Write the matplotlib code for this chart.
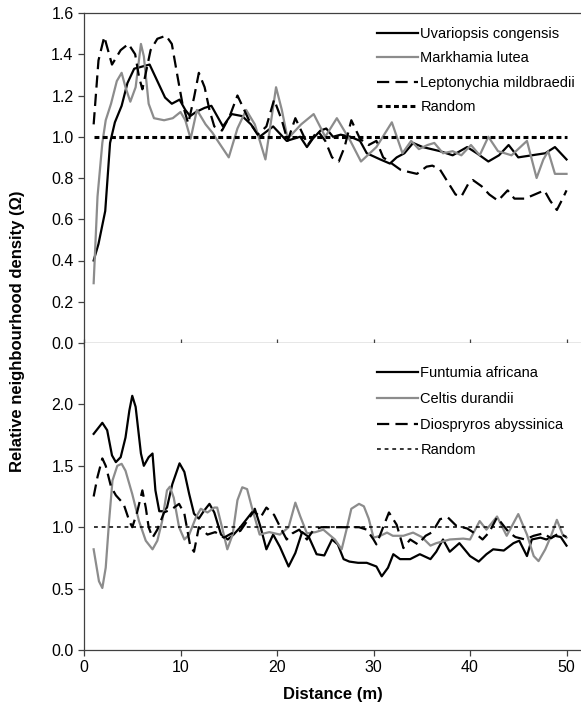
import numpy as np
import matplotlib
matplotlib.use('Agg')
import matplotlib.pyplot as plt

plt.rcParams['font.family'] = ['Liberation Sans', 'DejaVu Sans']

# ---- top panel ----
uva_x = [1.0, 1.5, 2.2, 2.7, 3.2, 3.9, 4.5, 5.2, 6.0, 6.8, 7.4, 8.4, 9.1, 9.9, 10.5, 11.0, 11.6,
         12.5, 13.2, 14.4, 15.3, 16.4, 17.3, 18.2, 19.6, 21.0, 22.4, 23.1, 23.7, 24.5, 25.1, 25.8,
         26.6, 27.6, 28.6, 29.3, 30.7, 31.7, 32.4, 33.2, 34.1, 35.1, 36.0, 36.9, 38.2, 39.7, 40.7,
         41.9, 43.0, 44.0, 45.0, 46.4, 47.8, 48.8, 50.0]
uva_y = [0.40, 0.48, 0.64, 0.97, 1.07, 1.15, 1.26, 1.33, 1.34, 1.35, 1.29, 1.19, 1.16, 1.18, 1.13,
         1.10, 1.12, 1.14, 1.15, 1.05, 1.11, 1.10, 1.06, 1.00, 1.05, 0.98, 1.00, 0.95, 0.99, 1.03,
         1.04, 1.00, 1.01, 1.00, 0.98, 0.92, 0.89, 0.87, 0.90, 0.92, 0.97, 0.95, 0.94, 0.93, 0.91,
         0.95, 0.92, 0.88, 0.91, 0.96, 0.90, 0.91, 0.92, 0.95, 0.89]

mar_x = [1.0, 1.4, 1.9, 2.25, 2.8, 3.4, 3.9, 4.3, 4.8, 5.35, 5.9, 6.2, 6.7, 7.25, 8.3, 9.2, 10.0,
         10.5, 11.05, 11.7, 12.6, 13.3, 14.0, 15.0, 15.9, 16.8, 17.7, 18.8, 19.9, 20.5, 21.1, 22.5,
         23.8, 25.0, 26.2, 27.6, 28.7, 30.3, 31.9, 33.0, 33.9, 34.7, 35.6, 36.3, 37.2, 38.2, 39.1,
         40.1, 41.0, 41.9, 42.9, 44.3, 45.9, 46.9, 47.6, 48.1, 48.8, 49.3, 50.0]
mar_y = [0.29, 0.71, 0.97, 1.08, 1.16, 1.27, 1.31, 1.24, 1.17, 1.24, 1.45, 1.39, 1.16, 1.09, 1.08,
         1.09, 1.12, 1.08, 0.99, 1.13, 1.06, 1.02, 0.97, 0.90, 1.04, 1.13, 1.06, 0.89, 1.24, 1.13,
         0.99, 1.06, 1.11, 1.00, 1.09, 0.98, 0.88, 0.95, 1.07, 0.92, 0.98, 0.94, 0.96, 0.97, 0.92,
         0.93, 0.91, 0.96, 0.91, 1.00, 0.93, 0.91, 0.98, 0.80, 0.89, 0.93, 0.82, 0.82, 0.82]

lep_x = [1.0, 1.5, 2.1, 2.9, 3.8, 4.6, 5.3, 5.7, 6.05, 6.9, 7.6, 8.5, 9.1, 9.7, 10.2, 10.8, 11.4,
         11.9, 12.5, 13.0, 13.5, 14.3, 15.1, 15.9, 16.6, 17.3, 18.0, 18.9, 19.7, 20.5, 21.1, 21.9,
         22.6, 23.2, 24.2, 25.0, 25.7, 26.4, 27.0, 27.7, 28.6, 29.5, 30.3, 31.0, 31.9, 32.8, 33.6,
         34.5, 35.5, 36.1, 36.9, 37.7, 38.5, 39.1, 39.8, 40.3, 41.2, 42.0, 42.9, 43.9, 44.6, 45.7,
         46.7, 47.7, 48.3, 49.0, 49.6, 50.0]
lep_y = [1.06, 1.37, 1.485, 1.35, 1.42, 1.45, 1.40, 1.29, 1.23, 1.42, 1.475, 1.49, 1.45, 1.29,
         1.16, 1.065, 1.19, 1.31, 1.24, 1.13, 1.05, 1.03, 1.10, 1.20, 1.13, 1.06, 1.01, 1.05, 1.18,
         1.08, 0.98, 1.09, 1.02, 0.96, 1.03, 0.98, 0.90, 0.88, 0.95, 1.08, 0.99, 0.96, 0.98, 0.90,
         0.87, 0.84, 0.83, 0.82, 0.855, 0.86, 0.84, 0.78, 0.72, 0.71, 0.77, 0.79, 0.76, 0.72, 0.69,
         0.74, 0.70, 0.70, 0.72, 0.74, 0.69, 0.645, 0.70, 0.74]

# ---- bottom panel ----
fun_x = [1.0, 1.9, 2.4, 2.9, 3.3, 3.8, 4.3, 4.7, 5.0, 5.35, 5.9, 6.2, 6.7, 7.1, 7.4, 7.8, 8.2, 8.6,
         9.15, 9.9, 10.4, 10.9, 11.4, 11.9, 12.4, 13.0, 13.5, 14.2, 14.9, 15.5, 16.2, 16.9, 17.7,
         18.3, 18.9, 19.6, 20.3, 21.2, 21.9, 22.6, 23.3, 24.1, 24.9, 25.7, 26.3, 26.9, 27.5, 28.4,
         29.3, 30.3, 30.85, 31.5, 32.05, 32.75, 33.8, 34.8, 35.9, 36.5, 37.2, 37.9, 38.9, 40.0,
         40.9, 41.7, 42.4, 43.5, 44.5, 45.1, 45.9, 46.4, 47.3, 47.9, 48.8, 49.4, 50.0]
fun_y = [1.76, 1.85, 1.79, 1.585, 1.53, 1.57, 1.73, 1.95, 2.07, 1.98, 1.60, 1.50, 1.57, 1.60, 1.30,
         1.13, 1.13, 1.16, 1.35, 1.52, 1.45, 1.27, 1.11, 1.07, 1.13, 1.19, 1.12, 0.94, 0.90, 0.94,
         1.00, 1.07, 1.15, 1.00, 0.82, 0.94, 0.84, 0.68, 0.79, 0.96, 0.92, 0.78, 0.77, 0.90, 0.86,
         0.74, 0.72, 0.71, 0.71, 0.68, 0.60, 0.67, 0.78, 0.74, 0.74, 0.78, 0.74, 0.80, 0.90, 0.80,
         0.87, 0.765, 0.72, 0.78, 0.82, 0.81, 0.87, 0.89, 0.765, 0.90, 0.915, 0.90, 0.93, 0.92, 0.85]

cel_x = [1.0, 1.55, 1.9, 2.25, 2.6, 2.95, 3.45, 3.9, 4.3, 5.0, 5.7, 6.4, 7.1, 7.6, 8.1, 8.6, 8.9,
         9.3, 9.85, 10.4, 10.9, 11.6, 12.1, 12.8, 13.5, 13.8, 14.3, 14.85, 15.4, 15.9, 16.4, 16.9,
         17.4, 18.2, 19.2, 20.3, 21.2, 21.9, 22.4, 23.1, 24.0, 24.8, 26.0, 26.7, 27.2, 27.7, 28.5,
         29.0, 29.5, 30.0, 30.7, 31.4, 32.0, 33.1, 34.1, 35.0, 35.9, 36.5, 37.9, 39.3, 40.0, 41.0,
         41.7, 42.8, 43.8, 45.0, 45.9, 46.6, 47.1, 47.8, 48.4, 49.0, 49.6, 50.0]
cel_y = [0.82, 0.56, 0.505, 0.67, 1.05, 1.38, 1.50, 1.516, 1.46, 1.27, 1.05, 0.89, 0.82, 0.89, 1.05,
         1.30, 1.33, 1.24, 1.00, 0.90, 0.94, 1.08, 1.15, 1.12, 1.16, 1.16, 1.00, 0.82, 0.94, 1.22,
         1.325, 1.31, 1.16, 0.94, 0.96, 0.94, 1.00, 1.20, 1.09, 0.95, 0.96, 0.98, 0.90, 0.82, 0.98,
         1.15, 1.19, 1.17, 1.07, 0.915, 0.93, 0.956, 0.93, 0.93, 0.956, 0.92, 0.85, 0.87, 0.90,
         0.907, 0.90, 1.05, 0.98, 1.087, 0.93, 1.107, 0.94, 0.765, 0.724, 0.82, 0.93, 1.06, 0.94, 0.915]

dio_x = [1.0, 1.4, 1.9, 2.25, 2.8, 3.3, 4.1, 4.7, 5.0, 5.5, 6.05, 6.4, 6.7, 7.1, 7.6, 8.3, 9.15,
         9.85, 10.4, 10.7, 11.0, 11.4, 11.9, 12.8, 13.6, 14.5, 15.3, 16.2, 16.9, 17.6, 18.3, 18.9,
         19.7, 20.4, 21.0, 21.6, 22.3, 23.1, 23.8, 24.6, 25.4, 26.0, 26.7, 27.5, 28.5, 29.3, 30.0,
         30.3, 30.9, 31.6, 32.4, 33.1, 33.8, 34.6, 35.4, 36.1, 36.9, 37.7, 38.6, 39.7, 40.7, 41.3,
         42.0, 42.8, 43.5, 44.0, 44.7, 45.7, 46.6, 47.6, 48.4, 49.2, 50.0]
dio_y = [1.25, 1.41, 1.56, 1.50, 1.33, 1.26, 1.19, 1.05, 1.00, 1.12, 1.30, 1.16, 1.00, 0.915, 0.98,
         1.12, 1.15, 1.19, 1.11, 0.98, 0.85, 0.80, 1.00, 0.94, 0.96, 0.915, 0.95, 0.97, 1.05, 1.13,
         1.08, 1.16, 1.10, 0.99, 0.90, 0.95, 0.98, 0.90, 0.98, 1.00, 1.00, 1.00, 1.00, 1.00, 1.00,
         0.98, 0.90, 0.86, 0.98, 1.12, 1.02, 0.83, 0.90, 0.86, 0.93, 0.96, 1.066, 1.08, 1.01, 0.99,
         0.94, 0.90, 0.96, 1.08, 1.01, 0.96, 0.92, 0.90, 0.93, 0.95, 0.91, 0.95, 0.92]

rand_x = [1, 50]
rand_y = [1.0, 1.0]

gray = '#8c8c8c'
spine_c = '#404040'

fig = plt.figure(figsize=(5.81, 7.19), dpi=100)
ax1 = fig.add_axes([84/581, 376/719, 497/581, 330/719])
ax2 = fig.add_axes([84/581, 69/719, 497/581, 307/719])

ax1.plot(uva_x, uva_y, color='black', lw=1.6, label='Uvariopsis congensis')
ax1.plot(mar_x, mar_y, color=gray, lw=1.6, label='Markhamia lutea')
ax1.plot(lep_x, lep_y, color='black', lw=1.6, dashes=(5.5, 2.8), label='Leptonychia mildbraedii')
ax1.plot(rand_x, rand_y, color='black', lw=2.2, dashes=(1.6, 1.1), label='Random')

ax2.plot(fun_x, fun_y, color='black', lw=1.6, label='Funtumia africana')
ax2.plot(cel_x, cel_y, color=gray, lw=1.6, label='Celtis durandii')
ax2.plot(dio_x, dio_y, color='black', lw=1.6, dashes=(5.5, 2.8), label='Diospryros abyssinica')
ax2.plot(rand_x, rand_y, color='black', lw=1.1, dashes=(2.5, 2.5), label='Random')

ax1.set_ylim(0, 1.6)
ax1.set_yticks(np.arange(0, 1.61, 0.2))
ax1.set_yticklabels(['%.1f' % v for v in np.arange(0, 1.61, 0.2)])
ax2.set_ylim(0, 2.5)
ax2.set_yticks([0, 0.5, 1.0, 1.5, 2.0])
ax2.set_yticklabels(['0.0', '0.5', '1.0', '1.5', '2.0'])

for ax, sp in ((ax1, 0.7), (ax2, 0.8)):
    ax.set_xlim(0, 51.5)
    ax.set_xticks([0, 10, 20, 30, 40, 50])
    ax.spines['right'].set_visible(False)
    for s in ('left', 'bottom', 'top'):
        ax.spines[s].set_color(spine_c)
        ax.spines[s].set_linewidth(0.9)
    ax.tick_params(axis='both', labelsize=11.5, color=spine_c, width=0.9, length=4, direction='out')
    ax.legend(loc='upper left', frameon=False, fontsize=10.5, handlelength=2.8,
              handletextpad=0.15, borderpad=0, borderaxespad=0, labelspacing=sp)

ax1.get_legend().set_bbox_to_anchor((0.59, 0.957), transform=ax1.transAxes)
ax2.get_legend().set_bbox_to_anchor((0.59, 0.924), transform=ax2.transAxes)

ax1.tick_params(axis='x', labelbottom=False, direction='inout', length=6)
ax2.spines['top'].set_visible(False)

ax2.set_xlabel('Distance (m)', fontsize=12, fontweight='bold', labelpad=8)
fig.text(18/581, (719 - 331)/719, 'Relative neighbourhood density (\u03a9)', rotation=90,
         fontsize=12, fontweight='bold', ha='center', va='center')

fig.savefig('out.png', dpi=100)
plt.close(fig)
